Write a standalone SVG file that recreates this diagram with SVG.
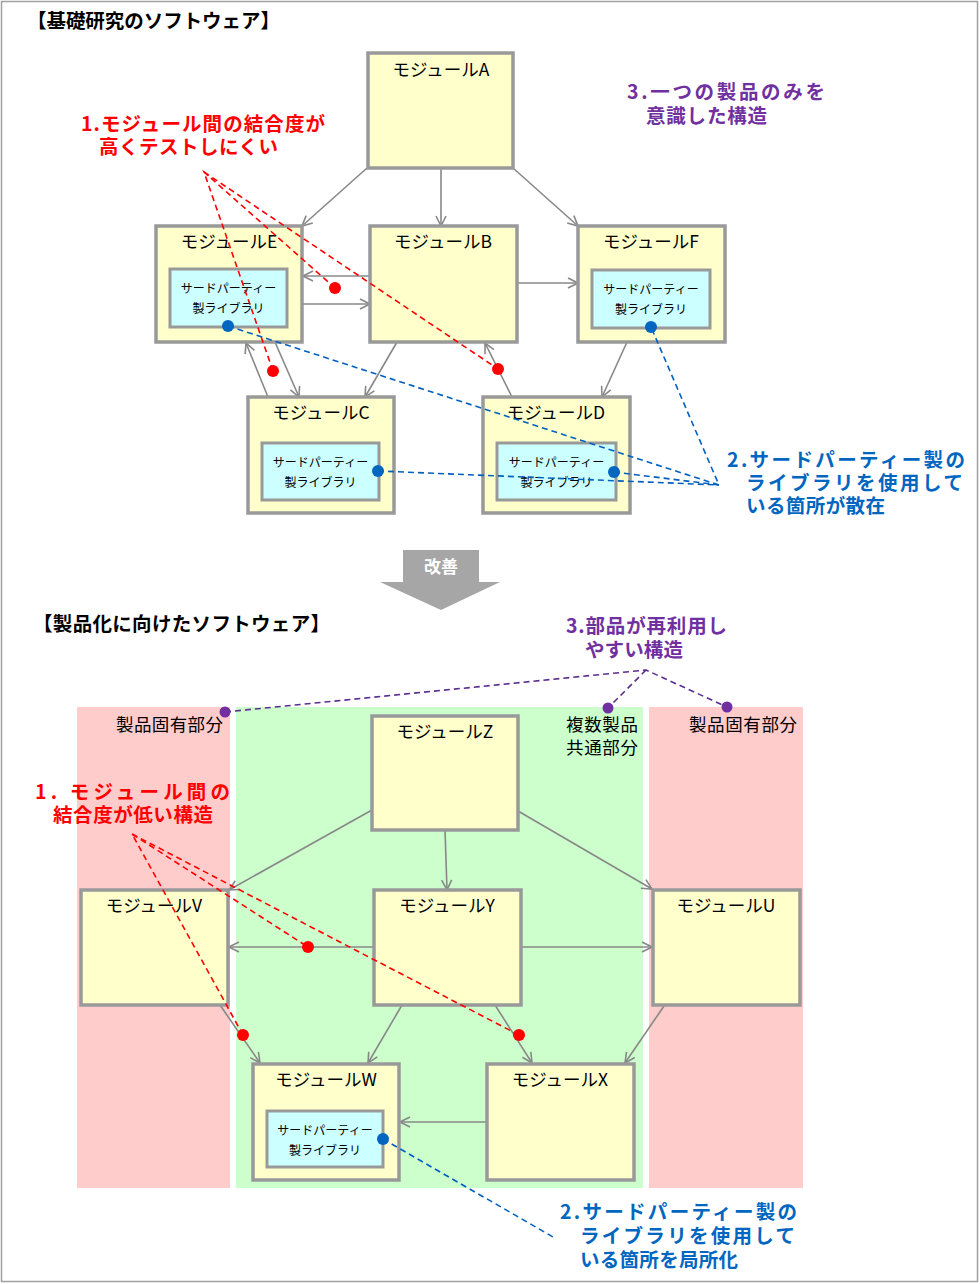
<svg xmlns="http://www.w3.org/2000/svg" width="980" height="1284" viewBox="0 0 980 1284">
<defs>
<style>
text{font-family:"Noto Sans CJK JP","Noto Sans",sans-serif;}
.mod{fill:#ffffcc;stroke:#999999;stroke-width:3.5;}
.lib{fill:#ccffff;stroke:#999999;stroke-width:3;}
.ml{font-size:17.5px;fill:#000;text-anchor:middle;}
.ll{font-size:12px;fill:#000;text-anchor:middle;}
.title{font-size:19.5px;font-weight:bold;fill:#000;}
.red{font-size:19.5px;font-weight:bold;fill:#ff0000;}
.blue{font-size:19.5px;font-weight:bold;fill:#0066c0;}
.purple{font-size:19.5px;font-weight:bold;fill:#7030a0;}
.area{font-size:17.5px;fill:#000;}
.con{stroke:#888888;stroke-width:1.6;fill:none;marker-end:url(#arr);}
.rd{stroke:#ff0000;stroke-width:1.6;stroke-dasharray:6 4;fill:none;}
.bd{stroke:#0060c0;stroke-width:1.6;stroke-dasharray:6 4;fill:none;}
.pd{stroke:#5c2d91;stroke-width:1.6;stroke-dasharray:6 4;fill:none;}
</style>
<marker id="arr" viewBox="0 0 12 12" refX="11" refY="6" markerWidth="12" markerHeight="12" markerUnits="userSpaceOnUse" orient="auto">
<path d="M1,1 L11,6 L1,11" fill="none" stroke="#888888" stroke-width="1.6"/>
</marker>
</defs>
<rect x="1.5" y="1.5" width="976" height="1280" fill="#ffffff" stroke="#a0a0a0" stroke-width="1.5"/>

<g id="regions">
<rect x="77" y="707" width="153" height="481" fill="#ffcccc"/>
<rect x="236" y="707" width="407" height="481" fill="#ccffcc"/>
<rect x="649" y="707" width="154" height="481" fill="#ffcccc"/>
</g>

<g id="titles">
<text class="title" x="27" y="28" textLength="253" lengthAdjust="spacing">【基礎研究のソフトウェア】</text>
<text class="title" x="33" y="631" textLength="297" lengthAdjust="spacing">【製品化に向けたソフトウェア】</text>
</g>

<g id="connectors">
<line class="con" x1="367" y1="168" x2="302" y2="226"/>
<line class="con" x1="441" y1="168" x2="441" y2="226"/>
<line class="con" x1="513" y1="168" x2="578" y2="226"/>
<line class="con" x1="370" y1="276" x2="303" y2="276"/>
<line class="con" x1="302" y1="304" x2="370" y2="304"/>
<line class="con" x1="517" y1="283" x2="578" y2="283"/>
<line class="con" x1="275" y1="342" x2="299" y2="397"/>
<line class="con" x1="268" y1="397" x2="246" y2="343"/>
<line class="con" x1="397" y1="342" x2="365" y2="397"/>
<line class="con" x1="627" y1="342" x2="602" y2="397"/>
<line class="con" x1="512" y1="397" x2="485" y2="343"/>
<line class="con" x1="372" y1="810" x2="229" y2="890"/>
<line class="con" x1="445" y1="830" x2="447" y2="890"/>
<line class="con" x1="518" y1="811" x2="652" y2="889"/>
<line class="con" x1="374" y1="947" x2="229" y2="947"/>
<line class="con" x1="521" y1="947" x2="652" y2="947"/>
<line class="con" x1="220" y1="1005" x2="260" y2="1063"/>
<line class="con" x1="402" y1="1005" x2="368" y2="1063"/>
<line class="con" x1="495" y1="1005" x2="532" y2="1063"/>
<line class="con" x1="664" y1="1006" x2="625" y2="1063"/>
<line class="con" x1="487" y1="1122" x2="400" y2="1122"/>
</g>

<g id="moduleA"><rect class="mod" x="368" y="53" width="145" height="115"/><text class="ml" x="441" y="76">モジュールA</text></g>
<g id="moduleE"><rect class="mod" x="156" y="226" width="146" height="116"/><text class="ml" x="229" y="248">モジュールE</text>
<rect class="lib" x="170" y="269" width="117" height="58"/><text class="ll" x="228.5" y="293">サードパーティー</text><text class="ll" x="228.5" y="313">製ライブラリ</text></g>
<g id="moduleB"><rect class="mod" x="370" y="226" width="147" height="116"/><text class="ml" x="443" y="248">モジュールB</text></g>
<g id="moduleF"><rect class="mod" x="578" y="226" width="147" height="116"/><text class="ml" x="651" y="248">モジュールF</text>
<rect class="lib" x="592" y="270" width="118" height="58"/><text class="ll" x="651" y="294">サードパーティー</text><text class="ll" x="651" y="314">製ライブラリ</text></g>
<g id="moduleC"><rect class="mod" x="248" y="397" width="146" height="116"/><text class="ml" x="321" y="419">モジュールC</text>
<rect class="lib" x="262" y="443" width="117" height="57"/><text class="ll" x="320.5" y="467">サードパーティー</text><text class="ll" x="320.5" y="487">製ライブラリ</text></g>
<g id="moduleD"><rect class="mod" x="483" y="397" width="147" height="116"/><text class="ml" x="556" y="419">モジュールD</text>
<rect class="lib" x="497" y="443" width="119" height="57"/><text class="ll" x="556.5" y="467">サードパーティー</text><text class="ll" x="556.5" y="487">製ライブラリ</text></g>

<g id="improve-arrow">
<path d="M403,550 H479 V582 H500 L441,610 L380,582 H403 Z" fill="#a6a6a6"/>
<text x="441" y="573" font-size="17" font-weight="bold" fill="#ffffff" text-anchor="middle">改善</text>
</g>

<g id="moduleZ"><rect class="mod" x="372" y="716" width="146" height="114"/><text class="ml" x="445" y="738">モジュールZ</text></g>
<g id="moduleV"><rect class="mod" x="81" y="890" width="147" height="115"/><text class="ml" x="154" y="912">モジュールV</text></g>
<g id="moduleY"><rect class="mod" x="374" y="890" width="147" height="115"/><text class="ml" x="447" y="912">モジュールY</text></g>
<g id="moduleU"><rect class="mod" x="653" y="890" width="147" height="115"/><text class="ml" x="726" y="912">モジュールU</text></g>
<g id="moduleW"><rect class="mod" x="253" y="1064" width="146" height="116"/><text class="ml" x="326" y="1086">モジュールW</text>
<rect class="lib" x="267" y="1111" width="116" height="56"/><text class="ll" x="325" y="1135">サードパーティー</text><text class="ll" x="325" y="1155">製ライブラリ</text></g>
<g id="moduleX"><rect class="mod" x="487" y="1064" width="147" height="116"/><text class="ml" x="560" y="1086">モジュールX</text></g>

<g id="area-labels">
<text class="area" x="116" y="731" textLength="107" lengthAdjust="spacing">製品固有部分</text>
<text class="area" x="566" y="731" textLength="72" lengthAdjust="spacing">複数製品</text>
<text class="area" x="566" y="754" textLength="72" lengthAdjust="spacing">共通部分</text>
<text class="area" x="689" y="731" textLength="108" lengthAdjust="spacing">製品固有部分</text>
</g>

<g id="annotation-lines">
<polyline class="rd" points="273,371 204,172 335,288"/>
<line class="rd" x1="204" y1="172" x2="498" y2="369"/>
<polyline class="bd" points="228,326 719,485 651,327"/>
<line class="bd" x1="378" y1="471" x2="719" y2="485"/>
<line class="bd" x1="614" y1="472" x2="719" y2="485"/>
<polyline class="rd" points="243,1035 132,834 308,947"/>
<line class="rd" x1="132" y1="834" x2="519" y2="1035"/>
<polyline class="pd" points="225,712 646,670 727,707"/>
<line class="pd" x1="646" y1="670" x2="608" y2="708"/>
<line class="bd" x1="383" y1="1139" x2="553" y2="1237"/>
</g>

<g id="dots">
<circle cx="273" cy="371" r="6" fill="#ff0000"/>
<circle cx="335" cy="288" r="6" fill="#ff0000"/>
<circle cx="498" cy="369" r="6" fill="#ff0000"/>
<circle cx="228" cy="326" r="6" fill="#0066c0"/>
<circle cx="651" cy="327" r="6" fill="#0066c0"/>
<circle cx="378" cy="471" r="6" fill="#0066c0"/>
<circle cx="614" cy="472" r="6" fill="#0066c0"/>
<circle cx="243" cy="1035" r="6" fill="#ff0000"/>
<circle cx="308" cy="947" r="6" fill="#ff0000"/>
<circle cx="519" cy="1035" r="6" fill="#ff0000"/>
<circle cx="383" cy="1139" r="6" fill="#0066c0"/>
<circle cx="225" cy="712" r="5.5" fill="#7030a0"/>
<circle cx="608" cy="708" r="5.5" fill="#7030a0"/>
<circle cx="727" cy="707" r="5.5" fill="#7030a0"/>
</g>

<g id="annotations">
<text class="red" x="81" y="131" textLength="244" lengthAdjust="spacing">1.モジュール間の結合度が</text>
<text class="red" x="99" y="154" textLength="179" lengthAdjust="spacing">高くテストしにくい</text>
<text class="purple" x="627" y="99" textLength="198" lengthAdjust="spacing">3.一つの製品のみを</text>
<text class="purple" x="646" y="123" textLength="121" lengthAdjust="spacing">意識した構造</text>
<text class="blue" x="727" y="467" textLength="238" lengthAdjust="spacing">2.サードパーティー製の</text>
<text class="blue" x="746" y="490" textLength="217" lengthAdjust="spacing">ライブラリを使用して</text>
<text class="blue" x="746" y="513" textLength="139" lengthAdjust="spacing">いる箇所が散在</text>
<text class="purple" x="566" y="633" textLength="161" lengthAdjust="spacing">3.部品が再利用し</text>
<text class="purple" x="585" y="657" textLength="98" lengthAdjust="spacing">やすい構造</text>
<text class="red" x="35" y="799" textLength="195" lengthAdjust="spacing">1. モジュール間の</text>
<text class="red" x="53" y="822" textLength="160" lengthAdjust="spacing">結合度が低い構造</text>
<text class="blue" x="560" y="1219" textLength="237" lengthAdjust="spacing">2.サードパーティー製の</text>
<text class="blue" x="580" y="1243" textLength="215" lengthAdjust="spacing">ライブラリを使用して</text>
<text class="blue" x="580" y="1267" textLength="158" lengthAdjust="spacing">いる箇所を局所化</text>
</g>
</svg>
